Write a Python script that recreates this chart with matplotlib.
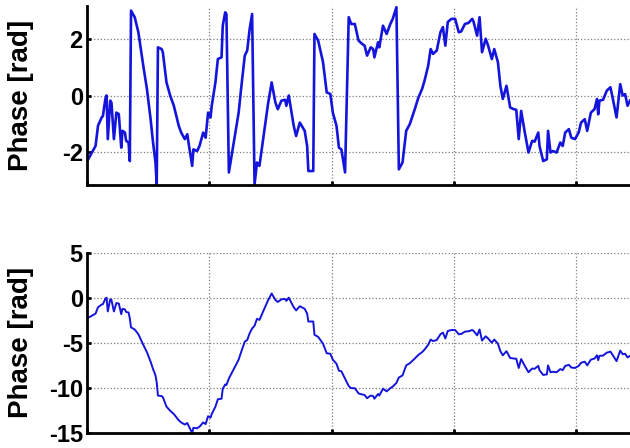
"""
Wrapped and unwrapped phase of a signal, two stacked panels
"""

import matplotlib
matplotlib.use('Agg')
import matplotlib.pyplot as plt
import numpy as np

plt.rcParams['font.family'] = 'Liberation Sans'
plt.rcParams['font.weight'] = 'bold'

# time axis (grid spacing = 1)
t = [0.00, 0.01, 0.04, 0.07, 0.09, 0.12, 0.13, 0.15, 0.16, 0.17,
     0.19, 0.20, 0.22, 0.24, 0.26, 0.28, 0.29, 0.31, 0.32, 0.34,
     0.35, 0.36, 0.39, 0.42, 0.46, 0.49, 0.52, 0.54, 0.56, 0.57,
     0.58, 0.61, 0.62, 0.65, 0.68, 0.71, 0.75, 0.77, 0.80, 0.82,
     0.83, 0.86, 0.87, 0.90, 0.92, 0.95, 0.97, 0.99, 1.01, 1.02,
     1.05, 1.07, 1.10, 1.11, 1.13, 1.14, 1.16, 1.20, 1.24, 1.26,
     1.29, 1.31, 1.33, 1.35, 1.37, 1.39, 1.41, 1.44, 1.47, 1.48,
     1.51, 1.54, 1.56, 1.59, 1.62, 1.63, 1.65, 1.69, 1.71, 1.74,
     1.78, 1.80, 1.81, 1.85, 1.86, 1.89, 1.93, 1.96, 1.99, 2.01,
     2.04, 2.06, 2.08, 2.11, 2.14, 2.16, 2.19, 2.22, 2.25, 2.27,
     2.29, 2.32, 2.34, 2.35, 2.38, 2.39, 2.42, 2.45, 2.48, 2.50,
     2.53, 2.55, 2.58, 2.61, 2.64, 2.68, 2.71, 2.74, 2.76, 2.79,
     2.81, 2.83, 2.86, 2.89, 2.91, 2.93, 2.95, 2.98, 3.01, 3.04,
     3.06, 3.09, 3.12, 3.15, 3.16, 3.19, 3.21, 3.23, 3.26, 3.28,
     3.31, 3.33, 3.36, 3.38, 3.40, 3.43, 3.46, 3.49, 3.51, 3.53,
     3.55, 3.58, 3.61, 3.64, 3.66, 3.69, 3.70, 3.73, 3.76, 3.77,
     3.79, 3.81, 3.84, 3.87, 3.89, 3.91, 3.94, 3.96, 3.99, 4.02,
     4.04, 4.07, 4.09, 4.12, 4.15, 4.17, 4.18, 4.19, 4.22, 4.25,
     4.28, 4.30, 4.33, 4.36, 4.38, 4.40, 4.42, 4.44]

# wrapped phase [rad]
phase_wrapped = [-2.25, -2.24, -2.00, -1.77, -1.06, -0.77, -0.72, -0.12, 0.00, -1.53,
                 -0.18, -0.25, -1.53, -0.60, -0.65, -1.83, -1.24, -1.30, -1.59, -1.65,
                 -2.30, 2.98, 2.75, 2.22, 1.05, 0.23, -0.83, -1.65, -2.35, -3.12,
                 1.69, 1.63, 1.52, 0.46, 0.00, -0.36, -1.06, -1.30, -1.53, -1.36,
                 -1.65, -2.47, -1.89, -1.95, -1.77, -1.30, -1.48, -0.60, -0.77, -0.36,
                 0.46, 1.28, 1.34, 2.45, 2.92, 2.86, -2.70, -1.65, -0.60, 0.23,
                 1.40, 1.58, 2.33, 2.86, -3.12, -2.35, -2.47, -1.53, -0.60, -0.30,
                 0.46, -0.24, -0.48, -0.18, -0.15, -0.36, 0.00, -1.06, -1.42, -0.95,
                 -1.24, -1.77, -2.65, -2.65, 2.16, 1.93, 1.17, 0.11, 0.05, -0.60,
                 -1.06, -1.83, -1.89, -2.70, 2.75, 2.51, 2.51, 1.93, 1.81, 1.75,
                 1.40, 1.69, 1.63, 1.34, 1.87, 1.69, 2.45, 2.16, 2.51, 2.69,
                 3.10, -2.59, -2.35, -1.24, -1.00, -0.48, -0.07, 0.23, 0.52, 1.05,
                 1.63, 1.46, 1.58, 2.22, 2.40, 1.75, 2.58, 2.69, 2.69, 2.22,
                 2.25, 2.51, 2.55, 2.69, 2.60, 2.10, 2.75, 1.52, 1.99, 1.75,
                 1.28, 1.63, 1.17, 0.34, -0.12, 0.34, -0.42, -0.48, -0.50, -1.53,
                 -0.54, -1.30, -2.00, -1.59, -1.62, -1.30, -1.77, -2.30, -2.24, -1.24,
                 -2.00, -1.95, -2.00, -1.65, -1.77, -1.30, -1.18, -1.48, -1.53, -1.30,
                 -0.95, -0.83, -1.24, -0.60, -0.48, -0.12, -0.66, -0.18, -0.15, 0.17,
                 0.29, -0.12, -0.77, 0.40, 0.00, 0.05, -0.36, -0.18]

top_yticks = [-2, 0, 2]
bottom_yticks = [-15, -10, -5, 0, 5]
x_ticks = [0, 1, 2, 3, 4]

LINE_COLOR = '#1414dc'


def style_axis(ax, yticks, ylim):
    ax.set_xlim(0, 4.44)
    ax.set_ylim(*ylim)
    ax.set_xticks(x_ticks)
    ax.set_xticklabels([])
    ax.set_yticks(yticks)
    ax.set_yticklabels([str(v) for v in yticks], fontsize=17, fontweight='bold')
    ax.grid(True, linestyle=':', color='#7f7f7f', linewidth=0.9)
    ax.spines['top'].set_visible(False)
    ax.spines['right'].set_visible(False)
    ax.spines['left'].set_linewidth(2)
    ax.spines['bottom'].set_linewidth(2)
    ax.tick_params(direction='in', length=3, width=2, pad=3)
    ax.set_ylabel('Phase [rad]', fontsize=20, fontweight='bold')
    ax.yaxis.set_label_coords(-0.098, 0.5)


fig = plt.figure(figsize=(6.3, 4.48), dpi=100)
ax_top = fig.add_axes([0.1381, 0.587, 0.8619, 0.3996])
ax_bot = fig.add_axes([0.1381, 0.0342, 0.8619, 0.4018])

ax_top.plot(t, phase_wrapped, color=LINE_COLOR, linewidth=1.9)
style_axis(ax_top, top_yticks, (-np.pi, np.pi))

ax_bot.plot(t, np.unwrap(phase_wrapped), color=LINE_COLOR, linewidth=1.4)
style_axis(ax_bot, bottom_yticks, (-15, 5))

fig.savefig('out.png', dpi=100, facecolor='white')
plt.close()
